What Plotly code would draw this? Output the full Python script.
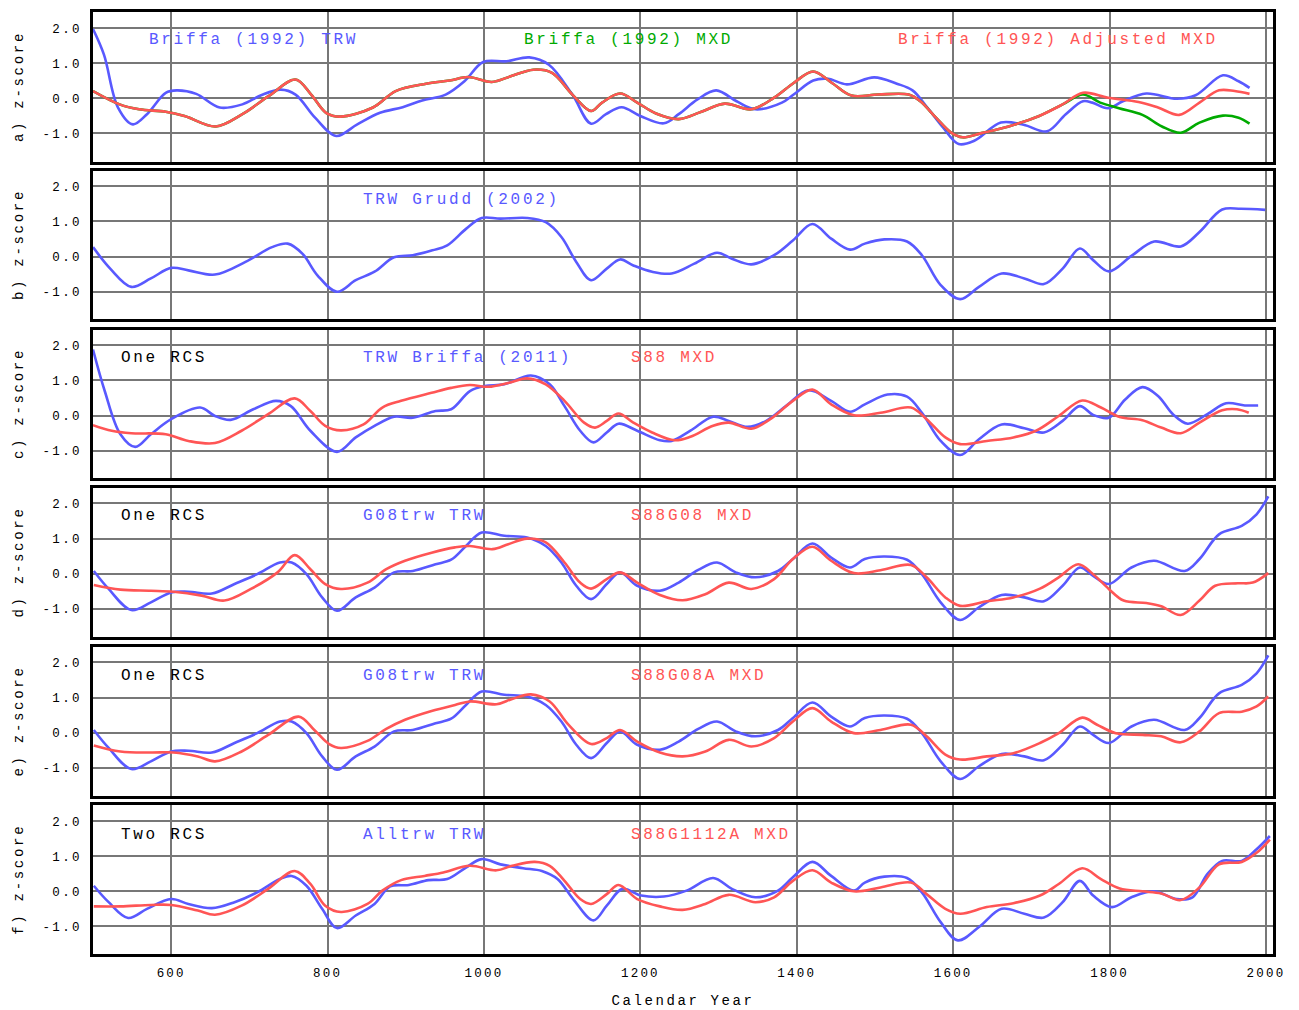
import plotly.graph_objects as go

# ---------------------------------------------------------------- data
# a) Briffa (1992) TRW
a_trw_years = [500, 514, 532, 551, 569, 593, 607, 632, 662, 691, 715, 740, 759, 784, 811, 838,
               867, 896, 921, 951, 975, 999, 1029, 1058, 1083, 1113, 1137, 1156, 1176, 1200,
               1230, 1249, 1273, 1297, 1323, 1347, 1381, 1396, 1421, 1440, 1464, 1499, 1528,
               1548, 1567, 1587, 1607, 1627, 1661, 1690, 1720, 1744, 1766, 1778, 1798, 1817,
               1847, 1886, 1910, 1945, 1965, 1979]
a_trw_vals = [1.98, 1.25, -0.26, -0.74, -0.45, 0.16, 0.23, 0.13, -0.26, -0.17, 0.09, 0.25, 0.11,
              -0.55, -1.07, -0.74, -0.41, -0.25, -0.06, 0.11, 0.49, 1.04, 1.06, 1.17, 0.96, 0.11,
              -0.72, -0.45, -0.25, -0.50, -0.71, -0.45, -0.03, 0.23, -0.08, -0.31, -0.12, 0.11,
              0.51, 0.56, 0.40, 0.60, 0.42, 0.23, -0.26, -0.83, -1.30, -1.21, -0.69, -0.75,
              -0.94, -0.45, -0.08, -0.12, -0.28, -0.08, 0.14, -0.01, 0.09, 0.66, 0.49, 0.30]

# a) Briffa (1992) MXD and its adjusted version share the record up to ~1750
a_mxd_common_years = [500, 534, 559, 593, 617, 657, 691, 725, 759, 779, 798, 816, 858, 887, 926,
                      956, 980, 1010, 1034, 1063, 1087, 1113, 1137, 1151, 1174, 1196, 1220, 1249,
                      1278, 1308, 1342, 1371, 1396, 1421, 1445, 1470, 1504, 1543, 1558, 1578,
                      1597, 1612, 1636, 1671, 1710, 1740]
a_mxd_common_vals = [0.21, -0.17, -0.31, -0.38, -0.50, -0.80, -0.45, 0.07, 0.54, 0.11, -0.41,
                     -0.52, -0.26, 0.21, 0.42, 0.51, 0.61, 0.47, 0.63, 0.82, 0.73, 0.11, -0.36,
                     -0.12, 0.14, -0.12, -0.43, -0.59, -0.38, -0.15, -0.31, 0.02, 0.44, 0.77,
                     0.44, 0.08, 0.11, 0.11, -0.08, -0.55, -0.97, -1.11, -0.99, -0.80, -0.50,
                     -0.17]
a_adj_tail_years = [1766, 1798, 1837, 1862, 1889, 1915, 1940, 1960, 1979]
a_adj_tail_vals = [0.16, 0.02, -0.10, -0.26, -0.47, -0.12, 0.23, 0.21, 0.13]
a_mxd_tail_years = [1766, 1788, 1812, 1842, 1867, 1891, 1915, 1945, 1965, 1979]
a_mxd_tail_vals = [0.11, -0.12, -0.28, -0.47, -0.80, -0.98, -0.69, -0.49, -0.55, -0.72]

# b) TRW Grudd (2002)
b_trw_years = [500, 522, 549, 574, 600, 622, 656, 695, 729, 749, 768, 787, 812, 836, 860, 885,
               909, 934, 953, 977, 997, 1021, 1055, 1079, 1099, 1118, 1137, 1157, 1174, 1191,
               1215, 1240, 1269, 1298, 1317, 1342, 1371, 1395, 1420, 1444, 1468, 1487, 1512,
               1541, 1560, 1584, 1609, 1633, 1662, 1691, 1716, 1740, 1762, 1779, 1799, 1828,
               1857, 1891, 1915, 1944, 1968, 1999]
b_trw_vals = [0.27, -0.34, -0.86, -0.62, -0.32, -0.39, -0.51, -0.15, 0.27, 0.37, 0.08, -0.53,
              -1.00, -0.67, -0.43, -0.02, 0.04, 0.18, 0.32, 0.79, 1.10, 1.08, 1.10, 0.98, 0.56,
              -0.15, -0.67, -0.34, -0.08, -0.25, -0.43, -0.48, -0.20, 0.11, -0.06, -0.22, 0.04,
              0.46, 0.93, 0.51, 0.20, 0.37, 0.49, 0.43, 0.04, -0.81, -1.21, -0.86, -0.48,
              -0.62, -0.78, -0.34, 0.23, -0.10, -0.42, 0.02, 0.43, 0.29, 0.70, 1.34, 1.36, 1.33]

# c) TRW Briffa (2011) / S88 MXD
c_trw_years = [500, 515, 535, 554, 574, 600, 637, 656, 676, 705, 734, 753, 778, 812, 836, 860,
               885, 909, 938, 958, 982, 1001, 1026, 1060, 1084, 1103, 1123, 1140, 1157, 1172,
               1196, 1225, 1240, 1264, 1293, 1313, 1337, 1361, 1386, 1415, 1444, 1468, 1487,
               1516, 1541, 1560, 1584, 1609, 1633, 1662, 1691, 1716, 1740, 1762, 1779, 1799,
               1820, 1842, 1862, 1881, 1900, 1925, 1949, 1973, 1990]
c_trw_vals = [1.88, 0.70, -0.53, -0.89, -0.53, -0.10, 0.23, -0.01, -0.12, 0.18, 0.42, 0.27,
              -0.43, -1.03, -0.62, -0.29, -0.03, -0.06, 0.13, 0.18, 0.70, 0.84, 0.89, 1.14,
              0.89, 0.27, -0.43, -0.76, -0.48, -0.23, -0.43, -0.70, -0.72, -0.43, -0.03,
              -0.15, -0.32, -0.15, 0.27, 0.72, 0.42, 0.11, 0.32, 0.60, 0.54, 0.08, -0.72,
              -1.12, -0.67, -0.25, -0.36, -0.48, -0.15, 0.27, 0.02, -0.06, 0.46, 0.81, 0.56,
              0.04, -0.23, 0.04, 0.35, 0.29, 0.29]
c_mxd_years = [500, 524, 549, 593, 622, 656, 690, 724, 758, 778, 797, 817, 846, 870, 894, 933,
               958, 982, 1006, 1031, 1055, 1079, 1103, 1128, 1142, 1157, 1172, 1191, 1215, 1244,
               1264, 1293, 1313, 1342, 1366, 1395, 1420, 1444, 1473, 1507, 1546, 1566, 1590,
               1609, 1643, 1677, 1706, 1735, 1765, 1789, 1813, 1842, 1866, 1891, 1915, 1944,
               1963, 1978]
c_mxd_vals = [-0.27, -0.43, -0.50, -0.53, -0.72, -0.78, -0.43, 0.04, 0.49, 0.13, -0.29, -0.42,
              -0.25, 0.23, 0.42, 0.65, 0.79, 0.87, 0.82, 0.93, 1.06, 0.89, 0.42, -0.20, -0.34,
              -0.15, 0.06, -0.20, -0.48, -0.70, -0.60, -0.29, -0.20, -0.37, -0.10, 0.42, 0.74,
              0.32, 0.01, 0.08, 0.23, -0.10, -0.62, -0.81, -0.72, -0.62, -0.43, -0.01, 0.43,
              0.23, -0.04, -0.13, -0.34, -0.50, -0.20, 0.15, 0.18, 0.08]

# d), e) G08trw TRW
g08_trw_years = [501, 520, 549, 574, 600, 622, 652, 681, 710, 739, 754, 773, 793, 812, 836, 860,
                 885, 909, 938, 958, 977, 997, 1026, 1055, 1079, 1099, 1118, 1137, 1157, 1174,
                 1196, 1225, 1249, 1274, 1298, 1322, 1347, 1376, 1395, 1420, 1444, 1468, 1487,
                 1512, 1541, 1560, 1584, 1609, 1633, 1662, 1691, 1716, 1740, 1762, 1779, 1799,
                 1828, 1857, 1896, 1915, 1940, 1969, 1988, 2003]
g08_trw_vals = [0.08, -0.43, -1.03, -0.81, -0.53, -0.51, -0.56, -0.29, -0.01, 0.32, 0.32,
                -0.01, -0.67, -1.05, -0.67, -0.39, 0.04, 0.08, 0.27, 0.40, 0.79, 1.17, 1.08,
                1.03, 0.79, 0.32, -0.34, -0.72, -0.29, 0.04, -0.34, -0.48, -0.25, 0.11, 0.32,
                0.04, -0.10, 0.08, 0.42, 0.86, 0.46, 0.18, 0.42, 0.49, 0.40, -0.01, -0.81,
                -1.31, -0.95, -0.60, -0.67, -0.78, -0.34, 0.18, -0.06, -0.29, 0.18, 0.37, 0.08,
                0.42, 1.12, 1.36, 1.69, 2.20]

# d) S88G08 MXD
d_mxd_years = [501, 535, 574, 603, 639, 668, 702, 736, 758, 778, 797, 817, 851, 875, 899, 933,
               963, 982, 1011, 1031, 1055, 1079, 1103, 1123, 1137, 1157, 1174, 1196, 1225, 1254,
               1283, 1313, 1342, 1371, 1395, 1420, 1444, 1473, 1507, 1546, 1566, 1590, 1609,
               1643, 1677, 1711, 1735, 1760, 1779, 1799, 1818, 1847, 1866, 1891, 1915, 1935,
               1964, 1983, 2003]
d_mxd_vals = [-0.32, -0.45, -0.48, -0.51, -0.62, -0.76, -0.43, 0.04, 0.53, 0.13, -0.29, -0.43,
              -0.25, 0.13, 0.37, 0.60, 0.75, 0.79, 0.70, 0.84, 1.00, 0.89, 0.32, -0.25, -0.42,
              -0.15, 0.04, -0.25, -0.60, -0.75, -0.58, -0.25, -0.43, -0.15, 0.42, 0.77, 0.37,
              0.02, 0.10, 0.25, -0.10, -0.67, -0.91, -0.78, -0.67, -0.42, -0.10, 0.27, -0.01,
              -0.43, -0.76, -0.83, -0.92, -1.17, -0.76, -0.34, -0.27, -0.25, 0.02]

# e) S88G08A MXD
e_mxd_years = [501, 535, 574, 603, 634, 656, 690, 724, 763, 783, 802, 817, 851, 875, 899, 933,
               963, 982, 1016, 1036, 1060, 1084, 1108, 1137, 1157, 1174, 1196, 1225, 1254, 1283,
               1313, 1342, 1371, 1395, 1420, 1444, 1473, 1507, 1546, 1566, 1590, 1609, 1643,
               1677, 1711, 1735, 1765, 1784, 1808, 1842, 1866, 1891, 1915, 1940, 1969, 1988,
               2003]
e_mxd_vals = [-0.36, -0.53, -0.56, -0.56, -0.67, -0.81, -0.53, -0.06, 0.46, 0.08, -0.32, -0.43,
              -0.23, 0.11, 0.37, 0.62, 0.79, 0.89, 0.81, 0.96, 1.09, 0.89, 0.23, -0.32, -0.15,
              0.08, -0.25, -0.56, -0.67, -0.53, -0.20, -0.39, -0.15, 0.32, 0.70, 0.32, -0.01,
              0.08, 0.23, -0.10, -0.62, -0.76, -0.67, -0.58, -0.29, -0.01, 0.43, 0.23, -0.01,
              -0.06, -0.10, -0.27, 0.04, 0.56, 0.60, 0.75, 1.03]

# f) Alltrw TRW / S88G1112A MXD
f_trw_years = [501, 520, 545, 569, 600, 622, 652, 681, 710, 739, 754, 773, 793, 812, 836, 860,
               880, 904, 929, 953, 977, 997, 1021, 1050, 1074, 1094, 1114, 1140, 1157, 1177,
               1201, 1230, 1259, 1293, 1317, 1347, 1376, 1395, 1420, 1444, 1473, 1487, 1512,
               1541, 1560, 1584, 1606, 1633, 1662, 1691, 1716, 1740, 1762, 1779, 1803, 1828,
               1857, 1886, 1906, 1925, 1944, 1969, 1988, 2005]
f_trw_vals = [0.16, -0.31, -0.76, -0.50, -0.22, -0.36, -0.48, -0.31, -0.03, 0.35, 0.44, 0.16,
              -0.50, -1.05, -0.69, -0.36, 0.14, 0.18, 0.32, 0.35, 0.68, 0.92, 0.77, 0.66, 0.58,
              0.35, -0.22, -0.83, -0.41, 0.07, -0.12, -0.15, 0.02, 0.38, 0.07, -0.17, 0.02,
              0.40, 0.84, 0.44, 0.02, 0.25, 0.42, 0.38, -0.03, -0.88, -1.40, -1.02, -0.50,
              -0.64, -0.75, -0.31, 0.30, -0.12, -0.45, -0.17, 0.00, -0.22, -0.17, 0.49, 0.87,
              0.87, 1.20, 1.58]
f_mxd_years = [501, 535, 574, 600, 634, 656, 690, 724, 758, 778, 797, 817, 851, 870, 894, 924,
               948, 982, 1016, 1036, 1065, 1084, 1103, 1123, 1137, 1157, 1172, 1196, 1225, 1254,
               1283, 1313, 1347, 1371, 1395, 1420, 1444, 1473, 1507, 1546, 1566, 1590, 1609,
               1643, 1677, 1711, 1735, 1765, 1789, 1813, 1842, 1866, 1891, 1915, 1940, 1969,
               1988, 2005]
f_mxd_vals = [-0.43, -0.43, -0.39, -0.39, -0.55, -0.67, -0.41, 0.07, 0.58, 0.21, -0.41, -0.59,
              -0.36, 0.02, 0.32, 0.44, 0.54, 0.73, 0.60, 0.73, 0.84, 0.73, 0.30, -0.22, -0.36,
              -0.08, 0.18, -0.22, -0.43, -0.53, -0.36, -0.10, -0.31, -0.17, 0.30, 0.60, 0.25,
              0.00, 0.11, 0.25, -0.08, -0.50, -0.64, -0.45, -0.34, -0.12, 0.21, 0.66, 0.35,
              0.08, 0.00, -0.06, -0.25, 0.11, 0.77, 0.84, 1.10, 1.48]

panel_letters = ["a", "b", "c", "d", "e", "f"]
x_ticks = [600, 800, 1000, 1200, 1400, 1600, 1800, 2000]
y_ticks = [-1.0, 0.0, 1.0, 2.0]

# ---------------------------------------------------------------- styling
BLUE = "#5959ff"
RED = "#ff5555"
GREEN = "#00aa00"
GRID = "#777777"
FONT = "Courier New, Liberation Mono, monospace"
FRAME_W = 2.5


def spaced(text, px):
    return f'<span style="letter-spacing:{px}px">{text}</span>'


W, H = 1299, 1010
M_T, M_B, M_L, M_R = 11, 56, 93, 26
# inner pixel extents (top, bottom) of each panel's plotting area
panel_px = [(11.5, 161.5), (170.5, 318.5), (329.5, 477.5),
            (487.5, 636.5), (646.5, 795.5), (804.5, 954)]
plot_h = H - M_T - M_B


def dom(top, bot):
    lo = max(0.0, 1 - (bot - M_T) / plot_h)
    hi = min(1.0, 1 - (top - M_T) / plot_h)
    return [lo, hi]


fig = go.Figure()


def add_line(panel, xs, ys, color):
    suffix = "" if panel == 1 else str(panel)
    fig.add_trace(go.Scatter(
        x=xs, y=ys, mode="lines", xaxis="x" + suffix, yaxis="y" + suffix,
        line=dict(color=color, width=2.6, shape="spline", smoothing=1.0),
        showlegend=False, hoverinfo="skip"))


# panel a
add_line(1, a_trw_years, a_trw_vals, BLUE)
add_line(1, a_mxd_common_years + a_mxd_tail_years, a_mxd_common_vals + a_mxd_tail_vals, GREEN)
add_line(1, a_mxd_common_years + a_adj_tail_years, a_mxd_common_vals + a_adj_tail_vals, RED)
# panel b
add_line(2, b_trw_years, b_trw_vals, BLUE)
# panel c
add_line(3, c_trw_years, c_trw_vals, BLUE)
add_line(3, c_mxd_years, c_mxd_vals, RED)
# panel d
add_line(4, g08_trw_years, g08_trw_vals, BLUE)
add_line(4, d_mxd_years, d_mxd_vals, RED)
# panel e
add_line(5, g08_trw_years, g08_trw_vals, BLUE)
add_line(5, e_mxd_years, e_mxd_vals, RED)
# panel f
add_line(6, f_trw_years, f_trw_vals, BLUE)
add_line(6, f_mxd_years, f_mxd_vals, RED)

layout = dict(
    width=W, height=H,
    margin=dict(l=M_L, r=M_R, t=M_T, b=M_B),
    paper_bgcolor="white", plot_bgcolor="white",
    font=dict(family=FONT, color="black", size=12),
    showlegend=False,
)

y_ranges = [[-1.80, 2.48], [-1.76, 2.45], [-1.76, 2.45],
            [-1.78, 2.45], [-1.78, 2.45], [-1.79, 2.48]]

for i in range(6):
    n = i + 1
    sx = "" if n == 1 else str(n)
    top, bot = panel_px[i]
    layout["xaxis" + sx] = dict(
        domain=[0, 1], range=[500, 2009], anchor="y" + sx, automargin=False,
        tickvals=x_ticks,
        ticktext=[spaced(str(t), 2.2) for t in x_ticks],
        showticklabels=(n == 6),
        ticks="outside" if n == 6 else "", ticklen=5, tickcolor="rgba(0,0,0,0)",
        tickfont=dict(family=FONT, size=12.5, color="black"),
        showgrid=True, gridcolor=GRID, gridwidth=2, zeroline=False,
        showline=True, linecolor="black", linewidth=FRAME_W, mirror=True,
    )
    if n == 6:
        layout["xaxis" + sx]["title"] = dict(
            text=spaced("Calendar Year", 2.6),
            font=dict(family=FONT, size=14, color="black"), standoff=16)
    layout["yaxis" + sx] = dict(
        domain=dom(top, bot), range=y_ranges[i], anchor="x" + sx, automargin=False,
        tickvals=y_ticks,
        ticktext=[spaced(f"{v:.1f}", 2.3) for v in y_ticks],
        ticks="outside", ticklen=6, tickcolor="rgba(0,0,0,0)",
        tickfont=dict(family=FONT, size=12.5, color="black"),
        showgrid=True, gridcolor=GRID, gridwidth=2, zeroline=False,
        showline=True, linecolor="black", linewidth=FRAME_W, mirror=True,
        title=dict(text=spaced(f"{panel_letters[i]}) z-score", 2.7),
                   font=dict(family=FONT, size=14, color="black"), standoff=16),
    )

fig.update_layout(**layout)

# in-panel series labels
labels = [
    (1, 569, 1.68, "Briffa (1992) TRW", BLUE),
    (1, 1048, 1.68, "Briffa (1992) MXD", GREEN),
    (1, 1527, 1.68, "Briffa (1992) Adjusted MXD", RED),
    (2, 843, 1.6, "TRW Grudd (2002)", BLUE),
    (3, 533, 1.63, "One RCS", "black"),
    (3, 843, 1.63, "TRW Briffa (2011)", BLUE),
    (3, 1185, 1.63, "S88 MXD", RED),
    (4, 533, 1.63, "One RCS", "black"),
    (4, 843, 1.63, "G08trw TRW", BLUE),
    (4, 1185, 1.63, "S88G08 MXD", RED),
    (5, 533, 1.6, "One RCS", "black"),
    (5, 843, 1.6, "G08trw TRW", BLUE),
    (5, 1185, 1.6, "S88G08A MXD", RED),
    (6, 533, 1.6, "Two RCS", "black"),
    (6, 843, 1.6, "Alltrw TRW", BLUE),
    (6, 1185, 1.6, "S88G1112A MXD", RED),
]
for n, x, y, text, color in labels:
    sx = "" if n == 1 else str(n)
    fig.add_annotation(
        x=x, y=y, xref="x" + sx, yref="y" + sx, text=spaced(text, 2.7),
        showarrow=False, xanchor="left", yanchor="middle",
        font=dict(family=FONT, size=16, color=color))

fig.write_html("out.html")
